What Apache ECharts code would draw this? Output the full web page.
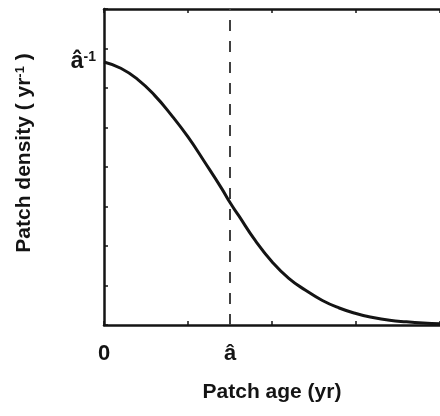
<!DOCTYPE html>
<html>
<head>
<meta charset="utf-8">
<script src="https://cdn.jsdelivr.net/npm/echarts@6/dist/echarts.min.js"></script>
<style>
  html, body { margin: 0; padding: 0; background: #fff; }
  #chart { width: 440px; height: 416px; }
</style>
</head>
<body>
<div id="chart"></div>
<script>
// Patch age (in units of the tick spacing) and patch density along the curve
const ages = [0, 0.2, 0.4, 0.6, 0.8, 1.0, 1.2, 1.4, 1.5, 1.6, 1.8, 2.0, 2.2, 2.4, 2.6, 2.8, 3.0, 3.2, 3.4, 3.6, 3.8, 4.0];
const densities = [6.66, 6.50, 6.22, 5.82, 5.32, 4.76, 4.12, 3.46, 3.10, 2.78, 2.14, 1.60, 1.18, 0.88, 0.62, 0.43, 0.29, 0.19, 0.12, 0.08, 0.05, 0.03];

// Characteristic age â and the density 1/â at age zero
const meanAge = 1.5;
const peakDensity = 6.66;

// Tick label texts
const xLabelTexts = ['0', 'â'];
const xLabelValues = [0, meanAge];

const FONT = '"Liberation Sans", Arial, sans-serif';
const INK = '#141414';

const chart = echarts.init(document.getElementById('chart'), null, { renderer: 'canvas' });

const curve = ages.map((a, i) => [a, densities[i]]);

const axisLine = { show: true, lineStyle: { color: INK, width: 2.5 } };
const axisTick = { show: true, inside: true, length: 4, lineStyle: { color: INK, width: 1.5 } };

chart.setOption({
  animation: false,
  backgroundColor: '#ffffff',
  grid: { left: 104, top: 9, right: -8, bottom: 91, containLabel: false },
  xAxis: [
    {
      type: 'value',
      position: 'bottom',
      min: 0,
      max: 4,
      interval: 1,
      axisLine: axisLine,
      axisTick: axisTick,
      splitLine: { show: false },
      axisLabel: {
        customValues: xLabelValues,
        formatter: v => xLabelTexts[xLabelValues.indexOf(v)],
        margin: 18,
        fontFamily: FONT,
        fontWeight: 'bold',
        fontSize: 22,
        color: INK
      },
      name: 'Patch age (yr)',
      nameLocation: 'middle',
      nameGap: 57,
      nameTextStyle: {
        fontFamily: FONT,
        fontWeight: 'bold',
        fontSize: 21,
        color: INK,
        padding: [0, 0, 0, 0]
      }
    },
    {
      type: 'value',
      position: 'top',
      min: 0,
      max: 4,
      interval: 1,
      axisLine: axisLine,
      axisTick: axisTick,
      axisLabel: { show: false },
      splitLine: { show: false }
    }
  ],
  yAxis: {
    type: 'value',
    min: 0,
    max: 8,
    interval: 1,
    axisLine: axisLine,
    axisTick: axisTick,
    splitLine: { show: false },
    axisLabel: {
      customValues: [peakDensity],
      formatter: () => '{a|â}{s|-1}',
      margin: 8,
      rich: {
        a: { fontFamily: FONT, fontWeight: 'bold', fontSize: 23, color: INK },
        s: { fontFamily: FONT, fontWeight: 'bold', fontSize: 14, color: INK, verticalAlign: 'top' }
      }
    },
    name: '{t|Patch density ( yr}{s|-1}{t| )}',
    nameLocation: 'middle',
    nameRotate: 90,
    nameGap: 69,
    nameTextStyle: {
      padding: [0, 0, 0, 28],
      rich: {
        t: { fontFamily: FONT, fontWeight: 'bold', fontSize: 21, color: INK },
        s: { fontFamily: FONT, fontWeight: 'bold', fontSize: 13, color: INK, verticalAlign: 'top' }
      }
    }
  },
  series: [
    {
      type: 'line',
      xAxisIndex: 0,
      data: curve,
      smooth: true,
      showSymbol: false,
      silent: true,
      lineStyle: { color: INK, width: 3 },
      markLine: {
        silent: true,
        symbol: 'none',
        label: { show: false },
        lineStyle: { color: '#404040', width: 2, type: [11, 10] },
        data: [{ xAxis: meanAge }]
      }
    }
  ]
});
</script>
</body>
</html>
